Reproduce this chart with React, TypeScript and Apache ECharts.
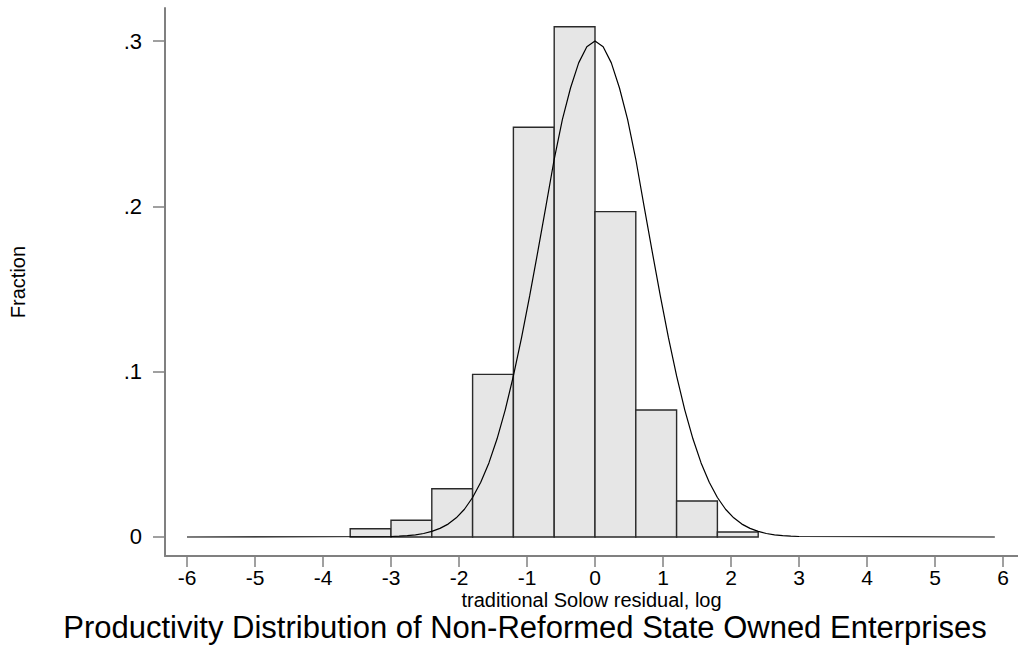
import React, { useEffect, useRef } from "react";
import * as echarts from "echarts";

const FONT = "'Liberation Sans', Arial, Helvetica, sans-serif";

// Histogram bins (width 0.6) and their fractions
const BIN_EDGES = [-3.6, -3.0, -2.4, -1.8, -1.2, -0.6, 0, 0.6, 1.2, 1.8, 2.4];
const FRACTIONS = [0.005, 0.0101, 0.0292, 0.0984, 0.2479, 0.3087, 0.1968, 0.0768, 0.0218, 0.003];

// Overlaid normal-density curve
const CURVE_X = [
  -6, -3.0, -2.88, -2.76, -2.64, -2.52, -2.4, -2.28, -2.16, -2.04, -1.92, -1.8, -1.68, -1.56,
  -1.44, -1.32, -1.2, -1.08, -0.96, -0.84, -0.72, -0.6, -0.48, -0.36, -0.24, -0.12, 0,
  0.12, 0.24, 0.36, 0.48, 0.6, 0.72, 0.84, 0.96, 1.08, 1.2, 1.32, 1.44, 1.56, 1.68, 1.8,
  1.92, 2.04, 2.16, 2.28, 2.4, 2.52, 2.64, 2.76, 2.88, 3.0, 5.88,
];
const CURVE_Y = [
  0, 0.0003, 0.0005, 0.0008, 0.0013, 0.0021, 0.0034, 0.0052, 0.0078, 0.0116, 0.0168, 0.0239, 0.0331, 0.0448,
  0.0594, 0.0769, 0.0974, 0.1206, 0.146, 0.1729, 0.2005, 0.2285, 0.2525, 0.2716, 0.2868, 0.2966, 0.3,
  0.2966, 0.2868, 0.2716, 0.2525, 0.2285, 0.2005, 0.1729, 0.146, 0.1206, 0.0974, 0.0769, 0.0594, 0.0448, 0.0331, 0.0239,
  0.0168, 0.0116, 0.0078, 0.0052, 0.0034, 0.0021, 0.0013, 0.0008, 0.0005, 0.0003, 0,
];

const X_TICKS = [-6, -5, -4, -3, -2, -1, 0, 1, 2, 3, 4, 5, 6];
const Y_TICKS = [0, 0.1, 0.2, 0.3];
const Y_TICK_LABELS = ["0", ".1", ".2", ".3"];

const TITLE = "Productivity Distribution of Non-Reformed State Owned Enterprises";
const X_NAME = "traditional Solow residual, log";
const Y_NAME = "Fraction";

export default function App() {
  const ref = useRef<HTMLDivElement>(null);

  useEffect(() => {
    if (!ref.current) return;
    const chart = echarts.init(ref.current, undefined, { renderer: "svg" });

    const barData = FRACTIONS.map((f, i) => [BIN_EDGES[i], BIN_EDGES[i + 1], f]);
    const curveData = CURVE_X.map((x, i) => [x, CURVE_Y[i]]);

    chart.setOption({
      animation: false,
      backgroundColor: "#ffffff",
      title: {
        text: TITLE,
        left: 525,
        top: 612,
        textAlign: "center",
        padding: 0,
        textStyle: { fontFamily: FONT, fontSize: 31, fontWeight: "normal", color: "#000" },
      },
      grid: { left: 165, right: 0, top: 8, bottom: 93 },
      xAxis: {
        type: "value",
        min: -6.3235,
        max: 6.2206,
        name: X_NAME,
        nameLocation: "middle",
        nameGap: 34,
        nameMoveOverlap: false,
        nameTextStyle: { fontFamily: FONT, fontSize: 20, color: "#000" },
        axisLine: { show: true, onZero: false, lineStyle: { color: "#808080", width: 2 } },
        axisTick: { show: true, customValues: X_TICKS, length: 11, lineStyle: { color: "#808080", width: 1.5 } },
        axisLabel: {
          customValues: X_TICKS,
          margin: 11,
          fontFamily: FONT,
          fontSize: 21,
          color: "#000",
          formatter: (v: number) => String(Math.round(v)),
        },
        splitLine: { show: false },
      },
      yAxis: {
        type: "value",
        min: -0.0115,
        max: 0.32,
        name: Y_NAME,
        nameLocation: "middle",
        nameRotate: 90,
        nameGap: 137,
        nameTextStyle: { fontFamily: FONT, fontSize: 20, color: "#000" },
        axisLine: { show: true, onZero: false, lineStyle: { color: "#808080", width: 2 } },
        axisTick: { show: true, customValues: Y_TICKS, length: 12, lineStyle: { color: "#808080", width: 1.5 } },
        axisLabel: {
          customValues: Y_TICKS,
          margin: 23,
          fontFamily: FONT,
          fontSize: 22,
          color: "#000",
          formatter: (v: number) => {
            const i = Y_TICKS.findIndex((t) => Math.abs(t - v) < 1e-9);
            return i >= 0 ? Y_TICK_LABELS[i] : "";
          },
        },
        splitLine: { show: false },
      },
      series: [
        {
          type: "custom",
          data: barData,
          encode: { x: [0, 1], y: 2 },
          z: 2,
          renderItem: (params: any, api: any) => {
            const x0 = api.value(0);
            const x1 = api.value(1);
            const y = api.value(2);
            const p0 = api.coord([x0, y]);
            const p1 = api.coord([x1, 0]);
            return {
              type: "rect",
              shape: { x: p0[0], y: p0[1], width: p1[0] - p0[0], height: p1[1] - p0[1] },
              style: { fill: "#e6e6e6", stroke: "#2a2a2a", lineWidth: 1.4 },
            };
          },
        },
        {
          type: "line",
          data: curveData,
          showSymbol: false,
          symbol: "none",
          smooth: false,
          z: 3,
          lineStyle: { color: "#000", width: 1.2 },
        },
      ],
    });

    return () => chart.dispose();
  }, []);

  return (
    <div
      ref={ref}
      style={{ position: "fixed", left: 0, top: 0, width: 1018, height: 649, background: "#fff" }}
    />
  );
}
